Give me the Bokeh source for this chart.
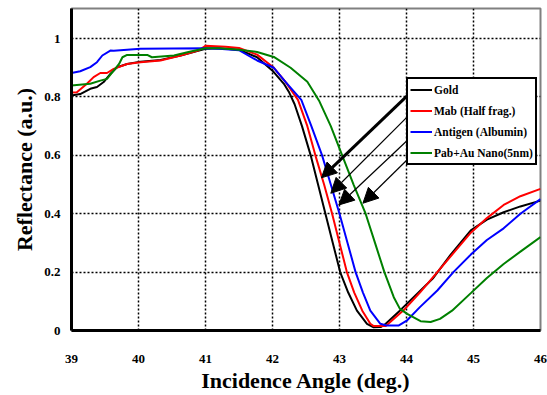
from bokeh.plotting import figure
from bokeh.models import (ColumnDataSource, Legend, LegendItem, FixedTicker,
                          Arrow, NormalHead, Range1d)
from bokeh.embed import file_html
from bokeh.resources import INLINE

# ---- data ----
gold_x = [39.0, 39.13, 39.28, 39.38, 39.48, 39.58, 39.68, 39.83, 40.03, 40.33, 40.63, 41.0, 41.2,
          41.5, 41.77, 42.0, 42.17, 42.25, 42.33, 42.44, 42.57, 42.68, 42.79, 42.9, 43.01, 43.13, 43.26,
          43.41, 43.51, 43.62, 43.69, 43.9, 44.16, 44.4, 44.66, 44.96, 45.2, 45.45, 45.7, 46.0]
gold_y = [0.805, 0.81, 0.828, 0.834, 0.851, 0.879, 0.902, 0.913, 0.921, 0.927, 0.942, 0.965, 0.967,
          0.962, 0.936, 0.89, 0.845, 0.815, 0.775, 0.70, 0.6, 0.5, 0.4, 0.3, 0.2, 0.13, 0.068,
          0.023, 0.011, 0.012, 0.023, 0.068, 0.126, 0.18, 0.26, 0.343, 0.38, 0.405, 0.425, 0.445]

mab_x = [39.0, 39.08, 39.23, 39.33, 39.43, 39.53, 39.63, 39.83, 40.03, 40.33, 40.63, 40.9, 41.0,
         41.3, 41.5, 41.77, 42.02, 42.2, 42.38, 42.52, 42.64, 42.77, 42.89, 43.0, 43.11, 43.22,
         43.34, 43.46, 43.51, 43.69, 43.96, 44.2, 44.46, 44.7, 44.96, 45.2, 45.45, 45.7, 46.0]
mab_y = [0.815, 0.816, 0.845, 0.868, 0.882, 0.882, 0.896, 0.913, 0.919, 0.925, 0.942, 0.96, 0.975,
         0.972, 0.968, 0.945, 0.90, 0.85, 0.79, 0.70, 0.6, 0.5, 0.4, 0.3, 0.2, 0.13,
         0.068, 0.023, 0.015, 0.015, 0.07, 0.13, 0.20, 0.265, 0.335, 0.385, 0.43, 0.46, 0.485]

antigen_x = [39.0, 39.13, 39.28, 39.38, 39.46, 39.58, 39.63, 40.03, 41.0, 41.2, 41.5, 41.77, 42.02,
             42.2, 42.43, 42.58, 42.74, 42.87, 43.0, 43.12, 43.24, 43.35, 43.46, 43.61, 43.7,
             43.88, 44.01, 44.2, 44.46, 44.7, 44.96, 45.2, 45.45, 45.7, 46.0]
antigen_y = [0.882, 0.888, 0.902, 0.919, 0.942, 0.959, 0.958, 0.965, 0.967, 0.965, 0.96, 0.925, 0.90,
             0.85, 0.79, 0.7, 0.6, 0.5, 0.4, 0.3, 0.2, 0.13, 0.068, 0.023, 0.017,
             0.017, 0.035, 0.08, 0.137, 0.2, 0.26, 0.31, 0.35, 0.40, 0.45]

pab_x = [39.0, 39.28, 39.43, 39.53, 39.63, 39.71, 39.76, 39.83, 40.13, 40.2, 40.53, 40.73, 41.0,
         41.2, 41.5, 41.77, 42.02, 42.27, 42.52, 42.7, 42.87, 43.04, 43.21, 43.39, 43.53, 43.67,
         43.81, 43.9, 44.01, 44.21, 44.36, 44.5, 44.68, 44.96, 45.2, 45.45, 45.7, 46.0]
pab_y = [0.839, 0.845, 0.856, 0.862, 0.89, 0.913, 0.936, 0.944, 0.944, 0.936, 0.942, 0.953, 0.967,
         0.967, 0.962, 0.954, 0.937, 0.90, 0.852, 0.785, 0.7, 0.6, 0.5, 0.4, 0.3, 0.2,
         0.114, 0.075, 0.057, 0.032, 0.029, 0.04, 0.068, 0.128, 0.18, 0.228, 0.27, 0.32]

series_names = ["Gold", "Mab (Half frag.)", "Antigen (Albumin)", "Pab+Au Nano(5nm)"]
series_colors = ["#000000", "#ff0000", "#0000ff", "#008000"]

x_ticks = [39, 40, 41, 42, 43, 44, 45, 46]
y_ticks = [0, 0.2, 0.4, 0.6, 0.8, 1.0]
y_tick_labels = ["0", "0.2", "0.4", "0.6", "0.8", "1"]

# arrows: from legend entries to curves
arrow_x_start = [44.06, 44.0, 44.09, 44.06]
arrow_y_start = [0.815, 0.729, 0.668, 0.596]
arrow_x_end = [42.73, 42.87, 42.99, 43.35]
arrow_y_end = [0.523, 0.47, 0.43, 0.436]
arrow_widths = [3, 1.2, 1.2, 1.2]

FONT = "Liberation Serif"

p = figure(width=547, height=395, output_backend="svg", toolbar_location=None,
           x_range=Range1d(39, 46), y_range=Range1d(0, 1.103),
           min_border_left=71, min_border_right=7, min_border_top=8, min_border_bottom=65)
p.background_fill_color = "white"
p.border_fill_color = "white"
p.outline_line_color = "#808080"
p.outline_line_width = 2

p.xaxis.ticker = FixedTicker(ticks=x_ticks)
p.yaxis.ticker = FixedTicker(ticks=y_ticks)
p.yaxis.major_label_overrides = {t: l for t, l in zip(y_ticks, y_tick_labels)}

for ax in (p.xaxis, p.yaxis):
    ax.axis_line_width = 3
    ax.axis_line_color = "black"
    ax.major_tick_line_color = None
    ax.minor_tick_line_color = None
    ax.major_tick_out = 0
    ax.major_tick_in = 0
    ax.major_label_text_font = FONT
    ax.major_label_text_font_style = "bold"
    ax.major_label_text_font_size = "13px"
    ax.major_label_text_color = "black"
    ax.axis_label_text_font = FONT
    ax.axis_label_text_font_style = "bold"
    ax.axis_label_text_font_size = "22px"
    ax.axis_label_text_color = "black"

p.xaxis.axis_label = "Incidence Angle (deg.)"
p.yaxis.axis_label = "Reflectance (a.u.)"
p.xaxis.major_label_standoff = 24
p.xaxis.axis_label_standoff = 2
p.yaxis.major_label_standoff = 11
p.yaxis.axis_label_standoff = 4

p.grid.grid_line_color = "black"
p.grid.grid_line_dash = "2 2"
p.grid.grid_line_width = 1.5

renderers = []
for xs, ys, c in zip([gold_x, mab_x, antigen_x, pab_x],
                     [gold_y, mab_y, antigen_y, pab_y], series_colors):
    r = p.line(xs, ys, line_color=c, line_width=2)
    renderers.append(r)

arrow_src = ColumnDataSource(dict(x0=arrow_x_start, y0=arrow_y_start,
                                  x1=arrow_x_end, y1=arrow_y_end, w=arrow_widths))
p.add_layout(Arrow(end=NormalHead(size=15, fill_color="black", line_color="black"),
                   x_start="x0", y_start="y0", x_end="x1", y_end="y1",
                   line_width="w", line_color="black", source=arrow_src))

legend = Legend(items=[LegendItem(label=n, renderers=[r]) for n, r in zip(series_names, renderers)],
                location=(335, 165), orientation="vertical",
                border_line_color="black", border_line_width=2, border_line_alpha=1,
                background_fill_color="white", background_fill_alpha=1,
                label_text_font=FONT, label_text_font_style="bold", label_text_font_size="11.5px",
                label_text_color="black",
                glyph_width=22, glyph_height=17, label_height=17, label_standoff=2,
                spacing=4, padding=2, margin=0)
p.add_layout(legend)

open("out.html", "w").write(file_html(p, INLINE))
